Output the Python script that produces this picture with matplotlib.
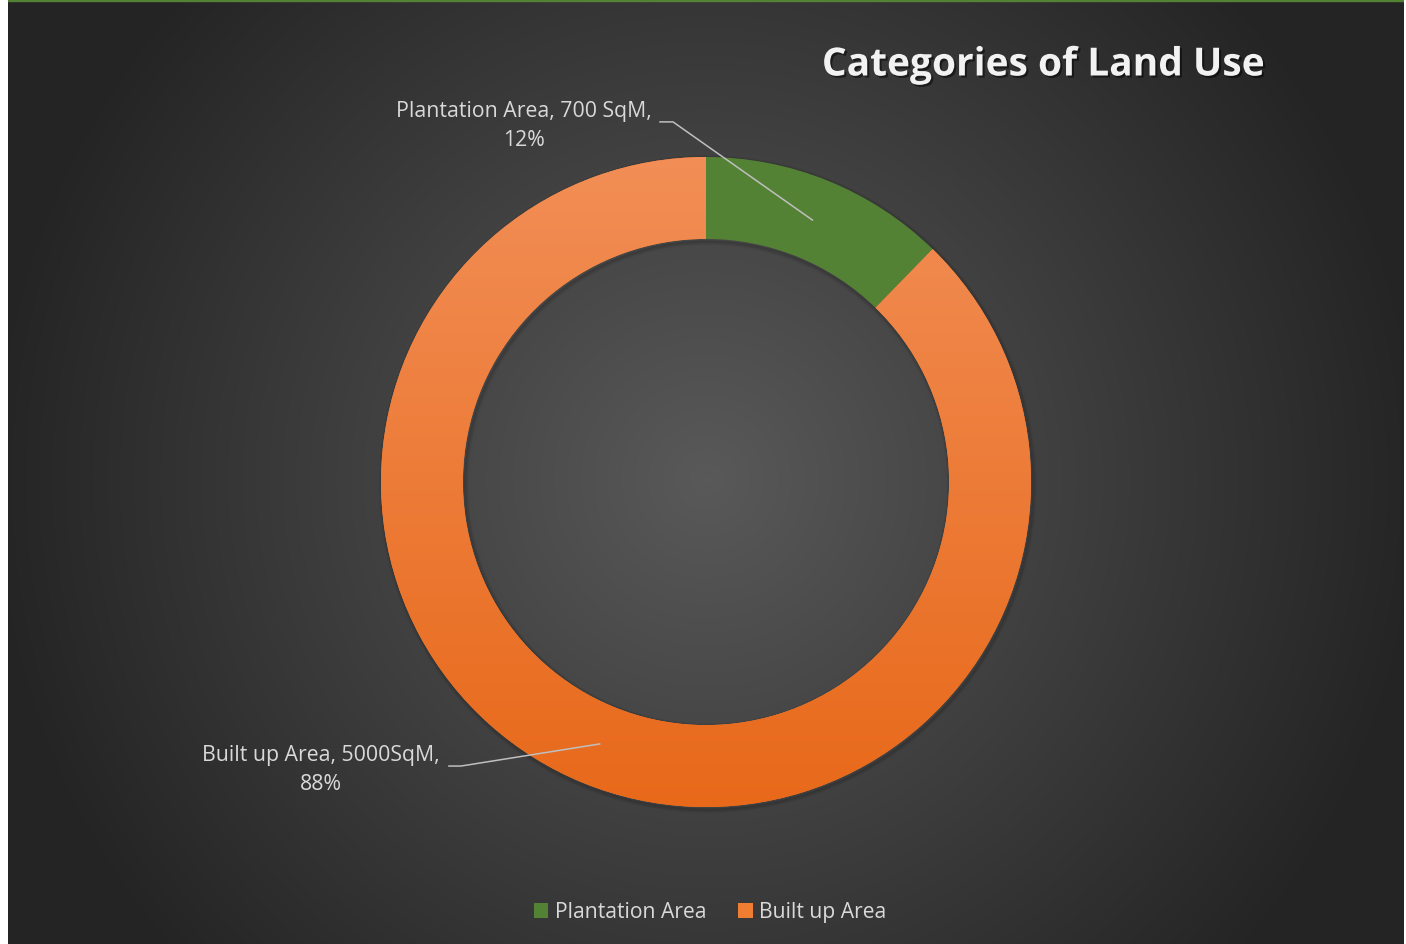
import numpy as np
import matplotlib.pyplot as plt
import matplotlib.patheffects as pe
from matplotlib.patches import Patch, Circle, Rectangle

# --- datos ---
categorias = ['Plantation Area', 'Built up Area']
valores = [700, 5000]
etiquetas = ['Plantation Area, 700 SqM,\n12%', 'Built up Area, 5000SqM,\n88%']
titulo = 'Categories of Land Use'

W, H = 1406, 945
fig = plt.figure(figsize=(W / 100, H / 100), dpi=100)
fig.patch.set_facecolor('white')

# --- fondo con gradiente radial ---
bg = fig.add_axes([8 / W, 0, (W - 10) / W, 1])
bg.set_axis_off()
yy, xx = np.mgrid[0:H, 0:W - 10]
r = np.hypot((xx - 698) / 760.0, (yy - 480) / 760.0)
v = np.clip(0.35 - 0.22 * r, 0.145, 0.35)
img = np.dstack([v, v, v])
bg.imshow(img, aspect='auto', extent=(0, 1, 0, 1))
bg.set_xlim(0, 1)
bg.set_ylim(0, 1)
bg.add_patch(Rectangle((0, 0.998), 1, 0.002, color='#548235', transform=bg.transAxes))

# --- donut ---
R = 325.0
S = 900
ax = fig.add_axes([(706 - S / 2) / W, (H - 483 - S / 2) / H, S / W, S / H])
lim = S / 2 / R
ax.set_xlim(-lim, lim)
ax.set_ylim(-lim, lim)
ax.set_axis_off()

# sombra suave (pocos pixeles)
px1 = 1 / R
for k in range(4):
    ax.add_patch(Circle((1.5 * px1, -2 * px1), 1.0 + k * px1, facecolor='none',
                        edgecolor='black', lw=1.2, alpha=0.12 - 0.025 * k, zorder=1))
    ax.add_patch(Circle((1.5 * px1, -2 * px1), 0.748 - k * px1, facecolor='none',
                        edgecolor='black', lw=1.2, alpha=0.12 - 0.025 * k, zorder=1))

wedges, _ = ax.pie(valores, startangle=90, counterclock=False, radius=1.0,
                   colors=['#548235', '#ED7D31'],
                   wedgeprops=dict(width=0.252, edgecolor='none'))
for w in wedges:
    w.set_zorder(2)

# gradiente naranja
gy = np.linspace(0, 1, 256).reshape(-1, 1)
c_top = np.array([0xF2, 0x8E, 0x56]) / 255
c_bot = np.array([0xE8, 0x69, 0x1A]) / 255
grad = c_top * (1 - gy)[..., None] + c_bot * gy[..., None]
grad = np.repeat(grad, 2, axis=1)
im = ax.imshow(grad, extent=(-1, 1, -1, 1), aspect='auto', zorder=3)
im.set_clip_path(wedges[1])
ax.set_xlim(-lim, lim)
ax.set_ylim(-lim, lim)

# --- etiquetas con líneas guía ---
txt_pos = [(-0.56, 1.097), (-1.185, -0.882)]
codo = [(-0.1415, -0.1015, 1.108), (-0.791, -0.754, -0.874)]
for w, lab, (tx, ty), (x0, x1, yl) in zip(wedges, etiquetas, txt_pos, codo):
    ang = np.deg2rad((w.theta1 + w.theta2) / 2)
    px, py = 0.87 * np.cos(ang), 0.87 * np.sin(ang)
    ax.plot([x0, x1, px], [yl, yl, py], color='#BFBFBF', lw=1.1, zorder=5)
    ax.text(tx, ty, lab, ha='center', va='center', fontsize=15.3,
            color='#D9D9D9', family='Open Sans', linespacing=1.5, zorder=6)

# --- título ---
fig.text(1043 / W, 1 - 66 / H, titulo, ha='center', va='center',
         fontsize=28, fontweight='bold', family='Open Sans', color='#F2F2F2',
         path_effects=[pe.withSimplePatchShadow(offset=(1.5, -1.5), alpha=0.5,
                                                shadow_rgbFace='black')])

# --- leyenda ---
handles = [Patch(facecolor=c, edgecolor='none', label=l)
           for c, l in zip(['#548235', '#EF7E33'], categorias)]
leg = fig.legend(handles=handles, loc='center', bbox_to_anchor=(710 / W, 1 - 913 / H),
                 ncol=2, frameon=False, fontsize=15.2, handlelength=0.7,
                 handleheight=0.7, handletextpad=0.3, columnspacing=1.5)
for t in leg.get_texts():
    t.set_color('#D9D9D9')
    t.set_family('Open Sans')

fig.savefig('out.png', dpi=100)
